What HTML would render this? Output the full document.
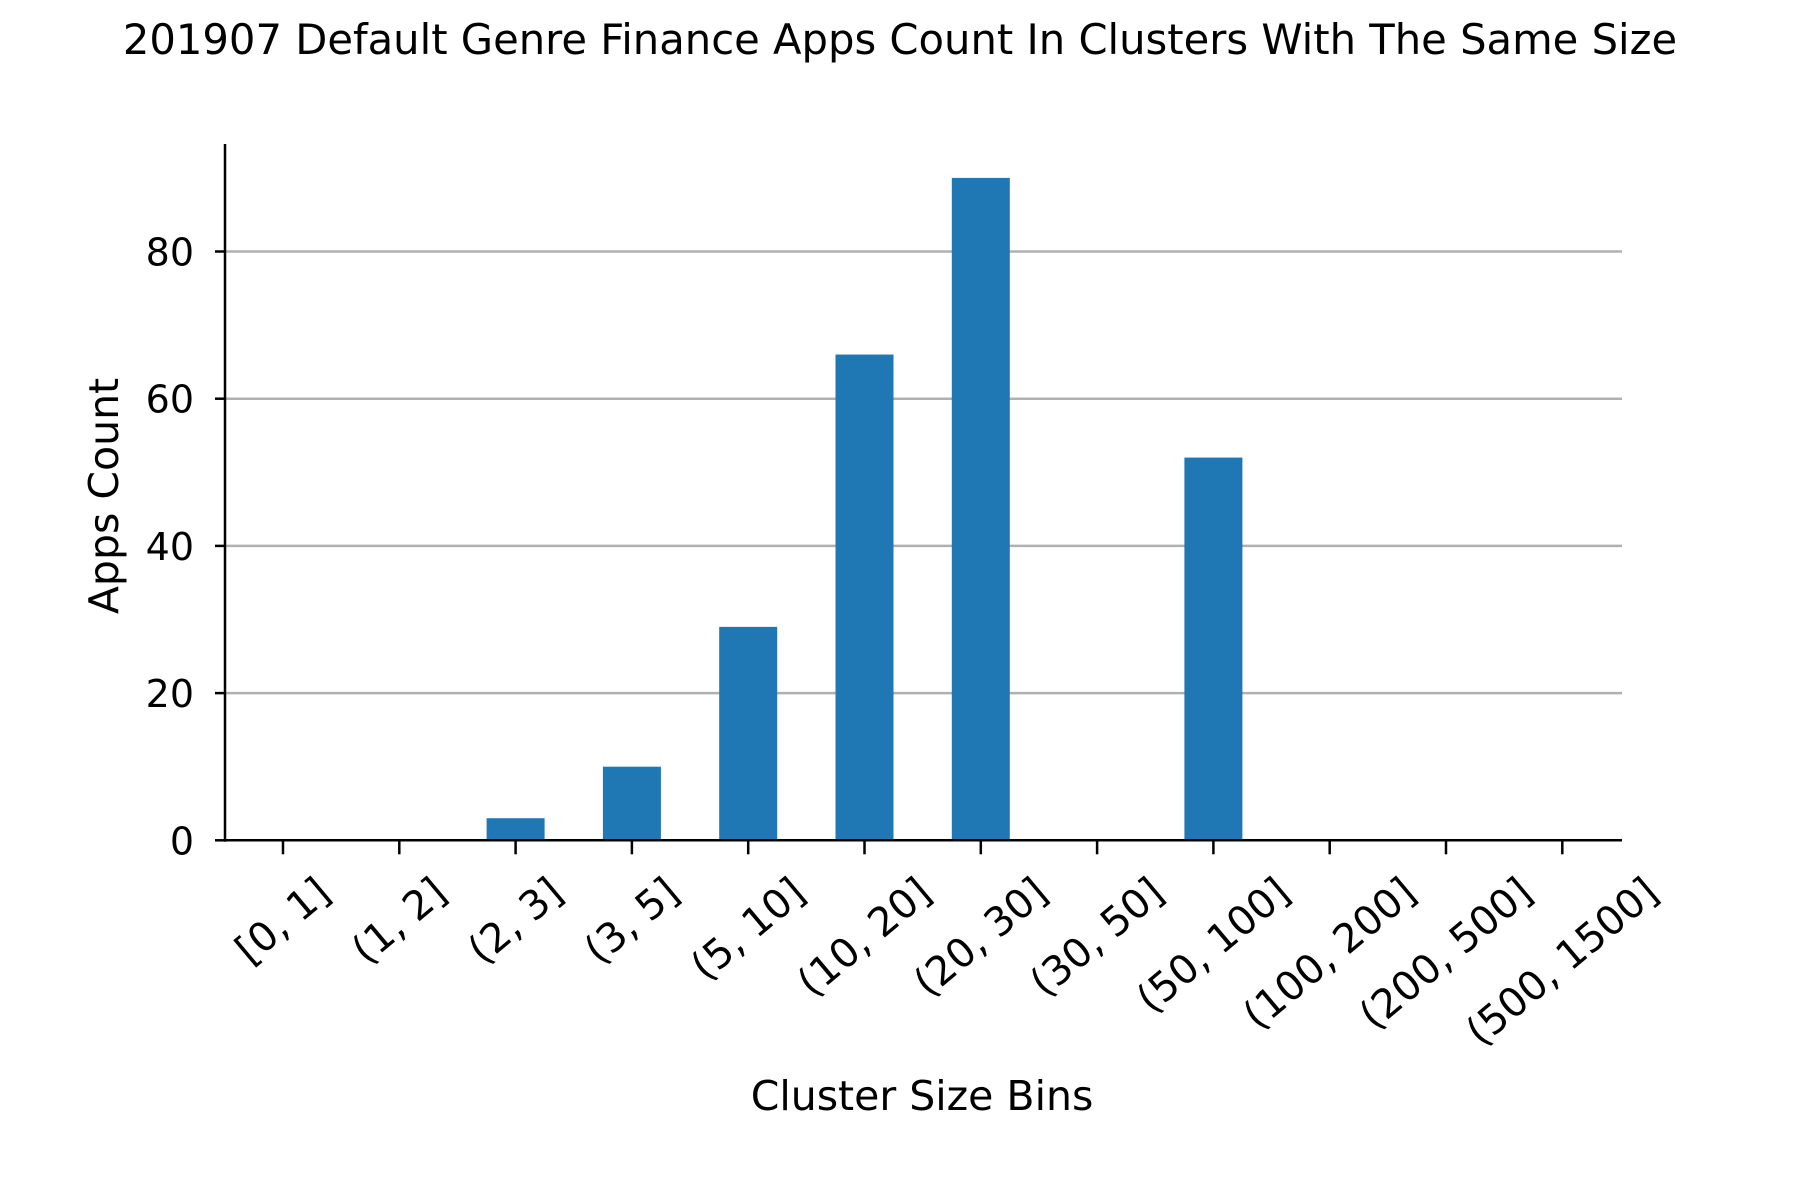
<!DOCTYPE html>
<html><head><meta charset="utf-8"><style>body{margin:0;background:#fff}svg{display:block}text{font-family:"DejaVu Sans","Liberation Sans",sans-serif;fill:#000}</style></head>
<body>
<svg width="1800" height="1200" viewBox="0 0 1800 1200">
<text x="900" y="54" font-size="41.7" text-anchor="middle">201907 Default Genre Finance Apps Count In Clusters With The Same Size</text>
<g id="grid"></g><g id="bars"></g><g id="axes"></g>
<text x="922" y="1110" font-size="41" text-anchor="middle">Cluster Size Bins</text>
<text transform="translate(118,496) rotate(-90)" font-size="41" text-anchor="middle">Apps Count</text>
</svg>
<script>
const categories=["[0, 1]","(1, 2]","(2, 3]","(3, 5]","(5, 10]","(10, 20]","(20, 30]","(30, 50]","(50, 100]","(100, 200]","(200, 500]","(500, 1500]"];
const values=[0,0,3,10,29,66,90,0,52,0,0,0];
const yTicks=[0,20,40,60,80];
const NS="http://www.w3.org/2000/svg";
const x0=283,step=116.3,y0=840.3,per=7.36,axL=225,axR=1622,axT=144;
const xs=i=>x0+i*step, ys=v=>y0-v*per;
function mk(t,a,p){const e=document.createElementNS(NS,t);for(const k in a)e.setAttribute(k,a[k]);p.appendChild(e);return e;}
const grid=document.getElementById('grid'),bars=document.getElementById('bars'),axes=document.getElementById('axes');
yTicks.forEach(v=>{
 if(v>0){const g=mk('line',{x1:axL,x2:axR,y1:ys(v),y2:ys(v),stroke:'#b0b0b0','stroke-width':2.5},grid);
 
 }
 const t=mk('line',{x1:axL-10,x2:axL,y1:ys(v),y2:ys(v),stroke:'#000','stroke-width':2.5},axes);
 
 
 const l=mk('text',{x:axL-31,y:ys(v)+14,'font-size':38,'text-anchor':'end'},axes);l.textContent=v;
 
 
});
values.forEach((v,i)=>{
 if(v>0){const b=mk('rect',{x:xs(i)-29,y:ys(v),width:58,height:v*per,fill:'#1f77b4'},bars);
 
 }
});
const sn=Math.sin(40*Math.PI/180),cs=Math.cos(40*Math.PI/180);
categories.forEach((c,i)=>{
 const t=mk('line',{x1:xs(i),x2:xs(i),y1:y0,y2:y0+14,stroke:'#000','stroke-width':2.5},axes);
 
 
 const l=mk('text',{x:0,y:0,'font-size':40,'text-anchor':'middle','dominant-baseline':'central'},axes);l.textContent=c;
 
 
 const w=l.getComputedTextLength(),h=40*1.0;
 const H=w*sn+h*cs;
 const cy=y0+31+H/2;
 l.setAttribute('transform',`translate(${xs(i)},${cy}) rotate(-40)`);
});
const ya=mk('line',{x1:axL,x2:axL,y1:axT,y2:y0+1.5,stroke:'#000','stroke-width':2.5},axes);


const xa=mk('line',{x1:axL-1,x2:axR,y1:y0,y2:y0,stroke:'#000','stroke-width':2.5},axes);


</script>
</body></html>
